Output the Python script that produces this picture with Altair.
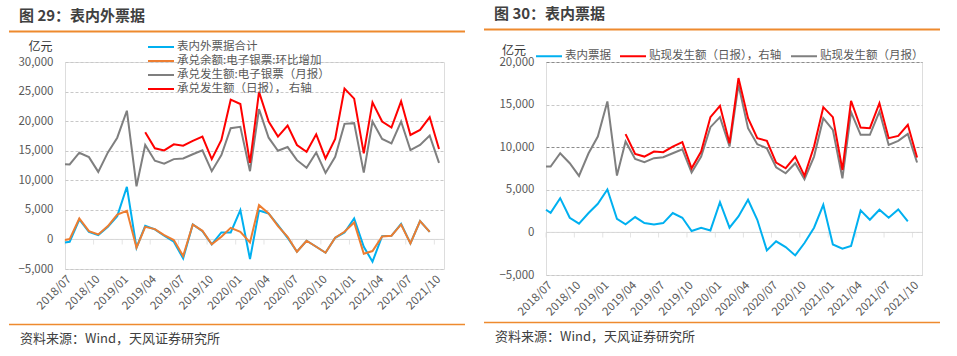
import altair as alt
import pandas as pd

CJK = "Noto Sans CJK SC"

# ---------------- data ----------------
months = pd.date_range("2018-07-01", "2021-10-01", freq="MS")
# first value sits on the 2018/07 boundary, the rest mid-month
x_dates = ["2018-07-01T00:00:00"] + [
    (m + pd.Timedelta(days=15)).strftime("%Y-%m-%dT00:00:00") for m in months
]
tick_months = months[::3]
tick_strings = [m.strftime("%Y-%m-%dT00:00:00") for m in tick_months]
tick_values = [alt.DateTime(year=int(m.year), month=int(m.month), date=1) for m in tick_months]

# Figure 29
L_names = ["表内外票据合计", "承兑余额:电子银票:环比增加", "承兑发生额:电子银票（月报）", "承兑发生额（日报），  右轴"]
L_colors = ["#00B0F0", "#ED7D31", "#7F7F7F", "#FF0000"]
L_total = [-500, -400, 3370, 1290, 730, 2130, 3930, 8900, -1400, 2300, 1690, 620, -390, -3200,
           2530, 1400, -840, 1180, 1180, 4940, -3330, 4880, 4380, 2420, 280, -2080, -220, -1240,
           -2250, 280, 1180, 3540, -1240, -3760, 560, 620, 2640, -670, 3090, 1290, None]
L_accept_chg = [-110, 60, 3540, 1400, 840, 2250, 4210, 4830, -1400, 2130, 1740, 730, -110, -2810,
                2530, 1460, -840, 450, 1950, 1300, -500, 5790, 4380, 2250, 450, -2080, -220, -1240,
                -2250, 280, 1290, 2870, -2420, -1970, 500, 620, 2530, -670, 3090, 1290, None]
L_accept_month = [12730, 12670, 14660, 13920, 11420, 14720, 17200, 21760, 8980, 15970, 13300, 12800,
                  13580, 13700, 14400, 15060, 11540, 14260, 18800, 19030, 11540, 22040, 17200, 15000,
                  15620, 13400, 12100, 14700, 11250, 13980, 19540, 19660, 11300, 19940, 16990, 16250,
                  19940, 15110, 15970, 17560, 12950]
L_accept_daily = [None] * 9 + [18120, 15400, 15060, 16080, 15850, 16650, 17390, 13580, 16820, 23630,
                               22900, 12950, 24940, 19940, 17390, 19260, 15970, 14830, 17780, 13700,
                               16990, 25500, 23800, 14550, 23180, 19940, 18920, 23350, 17670, 18520,
                               20680, 15280]

# Figure 30
R_names = ["表内票据", "贴现发生额（日报），右轴", "贴现发生额（月报）"]
R_colors = ["#00B0F0", "#FF0000", "#7F7F7F"]
R_onbs = [2660, 2300, 4020, 1720, 1020, 2270, 3360, 5040, 1600, 940, 1800, 1090, 940, 1090, 2270,
          1720, 160, 550, 230, 3550, 550, 1870, 3830, 1480, -2110, -1050, -1720, -2700, -1250, 550,
          3240, -1410, -1910, -1600, 2580, 1480, 2660, 1720, 2700, 1290, None]
R_disc_daily = [None] * 9 + [11530, 9220, 8900, 9490, 9410, 10080, 10590, 7530, 9490, 13530, 14860,
                             10470, 18110, 13410, 11060, 10740, 8200, 7530, 8900, 6630, 10080, 14700,
                             13530, 7330, 15450, 12310, 12230, 15170, 11060, 11330, 12630, 8780]
R_disc_month = [7730, 7730, 9290, 8120, 6630, 9290, 11250, 15370, 6670, 10670, 8630, 8240, 8710, 8820,
                9290, 9760, 7020, 8900, 12350, 13530, 10080, 17330, 12230, 10350, 9880, 7650, 6940,
                8120, 6240, 8900, 13410, 12040, 6350, 14120, 11450, 11450, 14190, 10270, 10740, 11570,
                8200]


def long_df(names, series):
    rows = []
    for name, vals in zip(names, series):
        for d, v in zip(x_dates, vals):
            if v is not None:
                rows.append({"date": d, "series": name, "value": v})
    return pd.DataFrame(rows)


L_df = long_df(L_names, [L_total, L_accept_chg, L_accept_month, L_accept_daily])
R_df = long_df(R_names, [R_onbs, R_disc_daily, R_disc_month])
ticks_df = pd.DataFrame({"date": tick_strings})
dummy = pd.DataFrame({"a": [0]})

ORANGE = "#EE8A2E"


def panel(df, names, colors, draw_order, ymax, yvals, grid_color, w, h, plot_left, plot_top,
          title, legend_kw, unit_xy):
    xdom = [alt.DateTime(year=2018, month=7, date=1), alt.DateTime(year=2021, month=11, date=1)]
    x_scale = alt.Scale(domain=xdom)
    x_axis = alt.Axis(values=tick_values, format="%Y/%m", labelAngle=-45, labelAlign="right",
                      labelBaseline="top", labelFont=CJK, labelFontSize=11.5,
                      labelColor="#595959", labelPadding=4, domain=False, ticks=False,
                      grid=False, title=None, labelOverlap=False, labelFlush=False)
    y_scale = alt.Scale(domain=[-5000, ymax], nice=False, zero=False)
    y_axis = alt.Axis(values=yvals, labelExpr="format(datum.value, ',')", grid=True,
                      gridDash=[3, 2], gridColor=grid_color, domain=False, ticks=False,
                      labelPadding=12, labelFont=CJK, labelFontSize=11.5, labelColor="#595959",
                      title=None, labelOverlap=False)
    X = alt.X("date:T", scale=x_scale, axis=x_axis)
    Y = alt.Y("value:Q", scale=y_scale, axis=y_axis)
    Y0 = alt.YDatum(0, type="quantitative", scale=y_scale, axis=y_axis)
    legend = alt.Legend(title=None, orient="none", symbolType="M-1,0L4.2,0", symbolSize=100,
                        symbolStrokeWidth=2, labelFont=CJK, labelFontSize=11.5,
                        labelColor="#595959", labelOffset=18, symbolOffset=0, padding=0,
                        labelLimit=400, **legend_kw)
    C = alt.Color("series:N", scale=alt.Scale(domain=names, range=colors), legend=legend)

    base = alt.Chart(df)
    layers = []
    # zero line and its small tick marks
    layers.append(alt.Chart(dummy).mark_rule(color="#d9d9d9", strokeWidth=1).encode(y=Y0))
    layers.append(alt.Chart(ticks_df).mark_tick(orient="vertical", size=5, thickness=1,
                                                color="#d9d9d9", yOffset=2.5)
                  .encode(x=X, y=Y0))
    for name in draw_order:
        layers.append(base.transform_filter(alt.datum.series == name)
                      .mark_line(strokeWidth=2).encode(x=X, y=Y, color=C))
    # decorations: title, orange rules, unit, source
    layers.append(alt.Chart(dummy).mark_text(text=title, align="left", baseline="middle", font=CJK,
                                             fontSize=15, fontWeight="bold", color="#404040")
                  .encode(x=alt.value(17 - plot_left), y=alt.value(14 - plot_top)))
    layers.append(alt.Chart(dummy).mark_rule(color=ORANGE, strokeWidth=2)
                  .encode(x=alt.value(7 - plot_left), x2=alt.value(463 - plot_left),
                          y=alt.value(29.5 - plot_top)))
    layers.append(alt.Chart(dummy).mark_rule(color=ORANGE, strokeWidth=1.5)
                  .encode(x=alt.value(7 - plot_left), x2=alt.value(463 - plot_left),
                          y=alt.value(322.5 - plot_top)))
    layers.append(alt.Chart(dummy).mark_text(text="资料来源：Wind，天风证券研究所", align="left",
                                             baseline="middle", font=CJK, fontSize=13,
                                             color="#404040")
                  .encode(x=alt.value(18 - plot_left), y=alt.value(337 - plot_top)))
    layers.append(alt.Chart(dummy).mark_text(text="亿元", align="center", baseline="middle",
                                             font=CJK, fontSize=12, color="#333333")
                  .encode(x=alt.value(unit_xy[0] - plot_left), y=alt.value(unit_xy[1] - plot_top)))
    return alt.layer(*layers).properties(width=w, height=h)


left = panel(L_df, L_names, L_colors,
             ["表内外票据合计", "承兑余额:电子银票:环比增加", "承兑发生额:电子银票（月报）", "承兑发生额（日报），  右轴"],
             30000, list(range(-5000, 30001, 5000)), "#c8c8c8",
             379, 207, 63, 60, "图 29：表内外票据",
             dict(legendX=82, legendY=-21, direction="vertical", rowPadding=2),
             (38.5, 45))

# right panel positions are relative to its own left edge at x=478
right = panel(R_df, R_names, R_colors,
              ["表内票据", "贴现发生额（月报）", "贴现发生额（日报），右轴"],
              20000, list(range(-5000, 20001, 5000)),
              {"condition": {"test": "datum.value == 10000 || datum.value == 20000", "value": "#8c8c8c"},
               "value": "#c8c8c8"},
              376, 213, 547 - 478, 62, "图 30：表内票据",
              dict(legendX=-11, legendY=-12, direction="horizontal", columnPadding=5),
              (515 - 478, 50.5))

chart = alt.hconcat(left, right, spacing=15).resolve_scale(color="independent").properties(
    padding={"left": 7, "top": 6, "right": 0, "bottom": 0}
).configure_view(stroke=None).configure(background="white")

chart.save("out.html", embed_options={"renderer": "svg", "actions": False})
